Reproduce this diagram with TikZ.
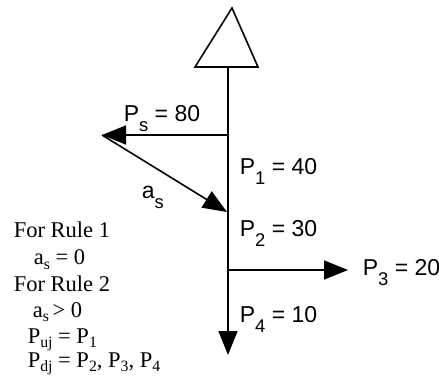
\documentclass[tikz,border=0pt]{standalone}
\usepackage{fontspec}
\setmainfont{Liberation Serif}
\newfontfamily\labelfont{Liberation Sans}
\usetikzlibrary{arrows.meta}
\newcommand{\dn}[1]{\raisebox{-.4em}{\scalebox{.8}{#1}}}
\newcommand{\lo}[1]{\raisebox{-.22em}{\scalebox{.7}{#1}}}

\begin{document}
\begin{tikzpicture}[x=1pt, y=-1pt, line width=1.6pt,
    load/.style = {font=\labelfont\fontsize{23}{26}\selectfont, anchor=base west, inner sep=0pt},
    rule/.style = {font=\fontsize{22.5}{25}\selectfont, anchor=base west, inner sep=0pt},
    head/.style = {-{Triangle[length=24pt, width=19pt]}}]
    \useasboundingbox (0,0) rectangle (439,387);

    % pole with the cone on top
    \coordinate (apex) at (232,8);
    \coordinate (bl) at (195,67);
    \coordinate (br) at (258,67);
    \coordinate (top) at (228,67);
    \coordinate (js) at (228,135);
    \coordinate (j3) at (228,270);
    \coordinate (bot) at (228,355);
    \coordinate (left) at (102,135);
    \coordinate (tip) at (227,212);
    \coordinate (right) at (348,270);

    \draw (bl) -- (apex) -- (br) -- cycle;
    \draw[head] (top) -- (bot);
    \draw[head] (js) -- (left);
    \draw[head] (left) -- (tip);
    \draw[head] (j3) -- (right);

    \node[load] (ps) at (123,122) {P\dn{s} = 80};
    \node[load] (as) at (141,199) {a\dn{s}};
    \node[load] (p1) at (239,175) {P\dn{1} = 40};
    \node[load] (p2) at (239,237) {P\dn{2} = 30};
    \node[load] (p3) at (362,276) {P\dn{3} = 20};
    \node[load] (p4) at (239,323) {P\dn{4} = 10};

    \node[rule] (r1) at (13,238) {For Rule 1};
    \node[rule] (a1) at (33,265) {a\lo{s} = 0};
    \node[rule] (r2) at (13,291) {For Rule 2};
    \node[rule] (a2) at (32,317) {a\lo{s}\,> 0};
    \node[rule] (pu) at (27,343) {P\lo{uj} = P\lo{1}};
    \node[rule] (pd) at (27,367) {P\lo{dj} = P\lo{2}, P\lo{3}, P\lo{4}};
\end{tikzpicture}
\end{document}
